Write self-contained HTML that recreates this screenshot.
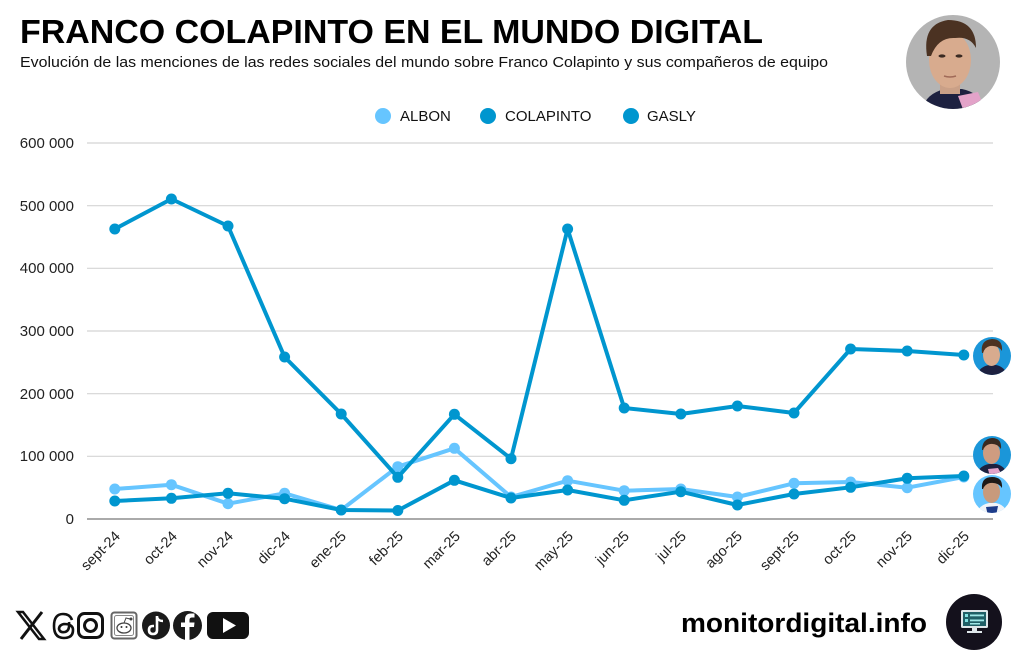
<!DOCTYPE html>
<html><head><meta charset="utf-8"><style>
html,body{margin:0;padding:0;background:#fff;}
svg{display:block;}
text{font-family:"Liberation Sans",Arial,sans-serif;}
</style></head><body>
<svg width="1024" height="660" viewBox="0 0 1024 660" xmlns="http://www.w3.org/2000/svg">
<rect width="1024" height="660" fill="#fff"/>
<!-- Title -->
<text x="20" y="43" font-size="33" font-weight="bold" fill="#000" textLength="743" lengthAdjust="spacingAndGlyphs">FRANCO COLAPINTO EN EL MUNDO DIGITAL</text>
<text x="20" y="67" font-size="14.5" fill="#111" textLength="808" lengthAdjust="spacingAndGlyphs">Evolución de las menciones de las redes sociales del mundo sobre Franco Colapinto y sus compañeros de equipo</text>

<defs>
<clipPath id="cTop"><circle cx="953" cy="62" r="47"/></clipPath>
<clipPath id="cCol"><circle cx="992" cy="356" r="19"/></clipPath>
<clipPath id="cGas"><circle cx="992" cy="455" r="19"/></clipPath>
<clipPath id="cAlb"><circle cx="992" cy="494" r="19"/></clipPath>
</defs>
<g clip-path="url(#cTop)">
<rect x="900" y="10" width="110" height="110" fill="#b4b4b4"/>
<path d="M922 112 Q924 94 945 89 L962 89 Q982 93 986 112 Z" fill="#1d2140"/>
<path d="M958 96 L978 92 L986 112 L964 112 Z" fill="#e3a3c9"/>
<rect x="940" y="76" width="20" height="18" fill="#caa087"/>
<ellipse cx="950" cy="60" rx="21" ry="28" fill="#d8ab8e"/>
<path d="M927 56 Q922 24 948 20 Q976 20 976 48 Q970 36 955 38 Q938 37 931 56 Z" fill="#4b3222"/>
<ellipse cx="942" cy="56" rx="3.5" ry="1.6" fill="#3a2a22"/>
<ellipse cx="959" cy="56" rx="3.5" ry="1.6" fill="#3a2a22"/>
<path d="M944 76 Q950 78 956 76" fill="none" stroke="#a06a58" stroke-width="1.5"/>
</g>

<!-- Legend -->
<circle cx="383" cy="116" r="8" fill="#66c5ff"/>
<text x="400" y="121" font-size="15" fill="#111">ALBON</text>
<circle cx="488" cy="116" r="8" fill="#0096cf"/>
<text x="505" y="121" font-size="15" fill="#111">COLAPINTO</text>
<circle cx="631" cy="116" r="8" fill="#0096cf"/>
<text x="647" y="121" font-size="15" fill="#111">GASLY</text>

<!-- Gridlines -->
<g stroke="#d4d4d4" stroke-width="1.2">
<line x1="87" y1="143" x2="993" y2="143"/>
<line x1="87" y1="205.7" x2="993" y2="205.7"/>
<line x1="87" y1="268.3" x2="993" y2="268.3"/>
<line x1="87" y1="331" x2="993" y2="331"/>
<line x1="87" y1="393.7" x2="993" y2="393.7"/>
<line x1="87" y1="456.3" x2="993" y2="456.3"/>
</g>
<line x1="87" y1="519" x2="993" y2="519" stroke="#777" stroke-width="1.3"/>

<!-- Y labels -->
<g font-size="15" fill="#222" text-anchor="end">
<text x="74" y="148">600 000</text>
<text x="74" y="211">500 000</text>
<text x="74" y="273">400 000</text>
<text x="74" y="336">300 000</text>
<text x="74" y="399">200 000</text>
<text x="74" y="461">100 000</text>
<text x="74" y="524">0</text>
</g>

<!-- X labels -->
<g font-size="14.5" fill="#222" text-anchor="end">
<text transform="translate(121,537) rotate(-45)">sept-24</text>
<text transform="translate(178,537) rotate(-45)">oct-24</text>
<text transform="translate(234,537) rotate(-45)">nov-24</text>
<text transform="translate(291,537) rotate(-45)">dic-24</text>
<text transform="translate(347,537) rotate(-45)">ene-25</text>
<text transform="translate(404,537) rotate(-45)">feb-25</text>
<text transform="translate(461,537) rotate(-45)">mar-25</text>
<text transform="translate(517,537) rotate(-45)">abr-25</text>
<text transform="translate(574,537) rotate(-45)">may-25</text>
<text transform="translate(630,537) rotate(-45)">jun-25</text>
<text transform="translate(687,537) rotate(-45)">jul-25</text>
<text transform="translate(743,537) rotate(-45)">ago-25</text>
<text transform="translate(800,537) rotate(-45)">sept-25</text>
<text transform="translate(857,537) rotate(-45)">oct-25</text>
<text transform="translate(913,537) rotate(-45)">nov-25</text>
<text transform="translate(970,537) rotate(-45)">dic-25</text>
</g>

<!-- Albon -->
<g fill="#66c5ff">
<polyline fill="none" stroke="#66c5ff" stroke-width="4" stroke-linejoin="round" points="114.8,489 171.4,484.7 228,503.7 284.6,493.3 341.2,510 397.8,466.7 454.4,448.3 511,497 567.6,480.7 624.2,490.7 680.8,489 737.4,497 794,483.3 850.6,482 907.2,487.7 963.8,477"/>
<circle cx="114.8" cy="489" r="5.5"/><circle cx="171.4" cy="484.7" r="5.5"/><circle cx="228" cy="503.7" r="5.5"/><circle cx="284.6" cy="493.3" r="5.5"/><circle cx="341.2" cy="510" r="5.5"/><circle cx="397.8" cy="466.7" r="5.5"/><circle cx="454.4" cy="448.3" r="5.5"/><circle cx="511" cy="497" r="5.5"/><circle cx="567.6" cy="480.7" r="5.5"/><circle cx="624.2" cy="490.7" r="5.5"/><circle cx="680.8" cy="489" r="5.5"/><circle cx="737.4" cy="497" r="5.5"/><circle cx="794" cy="483.3" r="5.5"/><circle cx="850.6" cy="482" r="5.5"/><circle cx="907.2" cy="487.7" r="5.5"/><circle cx="963.8" cy="477" r="5.5"/>
</g>
<!-- Colapinto -->
<g fill="#0096cf">
<polyline fill="none" stroke="#0096cf" stroke-width="4" stroke-linejoin="round" points="114.8,229 171.4,199 228,226 284.6,357 341.2,414 397.8,477.3 454.4,414.3 511,458.7 567.6,229 624.2,408 680.8,414 737.4,406 794,413 850.6,349 907.2,351 963.8,355"/>
<circle cx="114.8" cy="229" r="5.5"/><circle cx="171.4" cy="199" r="5.5"/><circle cx="228" cy="226" r="5.5"/><circle cx="284.6" cy="357" r="5.5"/><circle cx="341.2" cy="414" r="5.5"/><circle cx="397.8" cy="477.3" r="5.5"/><circle cx="454.4" cy="414.3" r="5.5"/><circle cx="511" cy="458.7" r="5.5"/><circle cx="567.6" cy="229" r="5.5"/><circle cx="624.2" cy="408" r="5.5"/><circle cx="680.8" cy="414" r="5.5"/><circle cx="737.4" cy="406" r="5.5"/><circle cx="794" cy="413" r="5.5"/><circle cx="850.6" cy="349" r="5.5"/><circle cx="907.2" cy="351" r="5.5"/><circle cx="963.8" cy="355" r="5.5"/>
</g>
<!-- Gasly -->
<g fill="#0096cf">
<polyline fill="none" stroke="#0096cf" stroke-width="4" stroke-linejoin="round" points="114.8,501 171.4,498.3 228,493.3 284.6,498.7 341.2,510 397.8,510.5 454.4,480.3 511,498 567.6,490 624.2,500.3 680.8,491.7 737.4,505 794,494 850.6,487.3 907.2,478.3 963.8,476"/>
<circle cx="114.8" cy="501" r="5.5"/><circle cx="171.4" cy="498.3" r="5.5"/><circle cx="228" cy="493.3" r="5.5"/><circle cx="284.6" cy="498.7" r="5.5"/><circle cx="341.2" cy="510" r="5.5"/><circle cx="397.8" cy="510.5" r="5.5"/><circle cx="454.4" cy="480.3" r="5.5"/><circle cx="511" cy="498" r="5.5"/><circle cx="567.6" cy="490" r="5.5"/><circle cx="624.2" cy="500.3" r="5.5"/><circle cx="680.8" cy="491.7" r="5.5"/><circle cx="737.4" cy="505" r="5.5"/><circle cx="794" cy="494" r="5.5"/><circle cx="850.6" cy="487.3" r="5.5"/><circle cx="907.2" cy="478.3" r="5.5"/><circle cx="963.8" cy="476" r="5.5"/>
</g>

<!-- Small avatars -->
<g clip-path="url(#cCol)">
<rect x="970" y="334" width="44" height="44" fill="#1b96d9"/>
<path d="M976 378 Q978 367 989 365 L996 365 Q1006 367 1008 378 Z" fill="#1d2140"/>
<ellipse cx="991.5" cy="355" rx="8.5" ry="11" fill="#d8ab8e"/>
<path d="M982 353 Q980 340 992 339 Q1003 339 1002 351 Q998 345 990 346 Q985 347 983 353 Z" fill="#4b3222"/>
</g>
<g clip-path="url(#cGas)">
<rect x="970" y="433" width="44" height="44" fill="#1b96d9"/>
<path d="M976 477 Q978 466 989 464 L996 464 Q1006 466 1008 477 Z" fill="#1d2140"/>
<path d="M988 469 L998 468 L1003 477 L990 477 Z" fill="#e3a3c9"/>
<ellipse cx="991.5" cy="453" rx="8.5" ry="11" fill="#cf9c80"/>
<path d="M982 450 Q982 439 992 438 Q1002 438 1001 449 Q997 443 990 444 Q985 445 983 450 Z" fill="#3a2a20"/>
</g>
<g clip-path="url(#cAlb)">
<rect x="970" y="472" width="44" height="44" fill="#66c5ff"/>
<path d="M976 516 Q978 505 989 503 L996 503 Q1006 505 1008 516 Z" fill="#f2f4f8"/>
<path d="M986 507 L998 506 L996 516 L988 516 Z" fill="#1d3c8a"/>
<ellipse cx="991.5" cy="492" rx="8.5" ry="11" fill="#c89a7c"/>
<path d="M982 489 Q981 477 992 477 Q1003 477 1002 488 Q998 482 990 483 Q985 484 983 489 Z" fill="#1e1a18"/>
</g>

<!-- Social icons -->
<g>
<path d="M18 612 L23 612 L44 639 L39 639 Z" fill="none" stroke="#111" stroke-width="2.5"/>
<path d="M42 612 L21 639" stroke="#111" stroke-width="3"/>
<path d="M72 620 Q70 614 63 614 Q54 614 54 626 Q54 638 64 638 Q73 638 73 630 Q73 624 64 624 Q59 625 59 629 Q60 633 65 632 Q70 631 69 622" fill="none" stroke="#111" stroke-width="2.6"/>
<rect x="78.5" y="613.5" width="24" height="24" rx="6" fill="none" stroke="#111" stroke-width="3"/>
<circle cx="90.5" cy="625.5" r="6" fill="none" stroke="#111" stroke-width="3"/>
<rect x="111.5" y="612.5" width="25" height="26" rx="3" fill="#fff" stroke="#666" stroke-width="2"/>
<rect x="114.5" y="615.5" width="19" height="20" rx="2" fill="none" stroke="#888" stroke-width="1"/>
<ellipse cx="124" cy="628" rx="7" ry="5" fill="#fff" stroke="#444" stroke-width="1.3"/>
<circle cx="121.5" cy="627" r="1" fill="#333"/><circle cx="126.5" cy="627" r="1" fill="#333"/>
<path d="M124 623 L126 618 L130 619" fill="none" stroke="#444" stroke-width="1"/>
<circle cx="131" cy="619" r="1.5" fill="#444"/>
<circle cx="156" cy="625.5" r="14" fill="#1a1a1a"/>
<path d="M157 616 L157 630 Q157 634 153 634 Q149 634 149 630 Q149 626 153 626 L154 626" fill="none" stroke="#fff" stroke-width="2.6"/>
<path d="M157 617 Q158 621 163 621" fill="none" stroke="#fff" stroke-width="2.4"/>
<circle cx="187.5" cy="625.5" r="14.5" fill="#1a1a1a"/>
<path d="M189.5 640 L189.5 627 L194 627 L194.5 622.5 L189.5 622.5 L189.5 620 Q189.5 617.5 192 617.5 L194.5 617.5 L194.5 613.5 L191 613.5 Q185 613.5 185 619.5 L185 622.5 L181 622.5 L181 627 L185 627 L185 640 Z" fill="#fff"/>
<rect x="207" y="612" width="42" height="27" rx="6" fill="#111"/>
<path d="M223 618 L223 633 L236 625.5 Z" fill="#fff"/>
</g>

<!-- Footer brand -->
<text x="681" y="632" font-size="27" font-weight="bold" fill="#000" textLength="246" lengthAdjust="spacingAndGlyphs">monitordigital.info</text>
<circle cx="974" cy="622" r="28" fill="#14111c"/>
<rect x="961" y="610" width="27" height="18" rx="1.5" fill="#dfe7ea"/>
<rect x="963" y="612" width="23" height="14" fill="#1f5f66"/>
<rect x="965" y="614" width="3" height="3" fill="#7fe0e0"/>
<rect x="970" y="614.5" width="14" height="1.8" fill="#9fe8e8"/>
<rect x="965" y="619" width="3" height="3" fill="#7fe0e0"/>
<rect x="970" y="619.5" width="14" height="1.8" fill="#9fe8e8"/>
<rect x="970" y="623" width="10" height="1.5" fill="#9fe8e8"/>
<rect x="972" y="628" width="5" height="4" fill="#dfe7ea"/>
<rect x="967" y="631" width="15" height="2" fill="#dfe7ea"/>
</svg>
</body></html>
